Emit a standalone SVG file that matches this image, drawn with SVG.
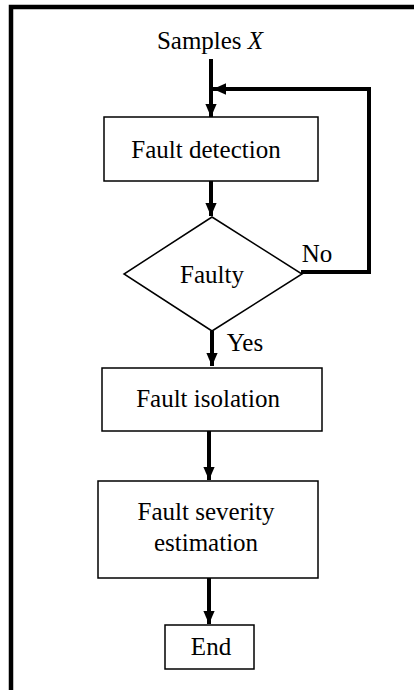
<svg xmlns="http://www.w3.org/2000/svg" width="414" height="690" viewBox="0 0 414 690">
<defs>
<marker id="ah" markerUnits="userSpaceOnUse" markerWidth="14" markerHeight="16" viewBox="0 0 16 14" refX="15" refY="7" orient="auto">
<path d="M0,0.5 L15,7 L0,13.5 Z" fill="#000"/>
</marker>
</defs>
<style>
.box{fill:#fff;stroke:#000;stroke-width:1.5}
.t{font-family:"Liberation Serif","Times New Roman",serif;font-size:25px;fill:#000;text-anchor:middle}
.c{fill:none;stroke:#000;stroke-width:4}
</style>
<rect width="414" height="690" fill="#fff"/>
<g id="frame">
<path d="M11,690 V7 H414" fill="none" stroke="#000" stroke-width="4.5"/>
</g>
<g id="connectors">
<path class="c" d="M211,59 V117" marker-end="url(#ah)"/>
<path class="c" d="M301,272 H369 V89 H213" marker-end="url(#ah)"/>
<path class="c" d="M211,181 V216" marker-end="url(#ah)"/>
<path class="c" d="M212,331 V366" marker-end="url(#ah)"/>
<path class="c" d="M209,431 V480" marker-end="url(#ah)"/>
<path class="c" d="M209,578 V624" marker-end="url(#ah)"/>
</g>
<g id="start">
<text class="t" x="210" y="49">Samples <tspan font-style="italic">X</tspan></text>
</g>
<g id="detection">
<rect class="box" x="104" y="117" width="214" height="64"/>
<text class="t" x="206" y="158">Fault detection</text>
</g>
<g id="faulty">
<path class="box" d="M212,217 L302,274 L212,331 L124,274 Z"/>
<text class="t" x="212" y="283">Faulty</text>
<text class="t" x="317" y="262">No</text>
<text class="t" x="245" y="351">Yes</text>
</g>
<g id="isolation">
<rect class="box" x="102" y="368" width="220" height="63"/>
<text class="t" x="208" y="407">Fault isolation</text>
</g>
<g id="severity">
<rect class="box" x="98" y="481" width="220" height="97"/>
<text class="t" x="206" y="520">Fault severity</text>
<text class="t" x="206" y="551">estimation</text>
</g>
<g id="end">
<rect class="box" x="165" y="625" width="89" height="44"/>
<text class="t" x="211" y="655">End</text>
</g>
</svg>
